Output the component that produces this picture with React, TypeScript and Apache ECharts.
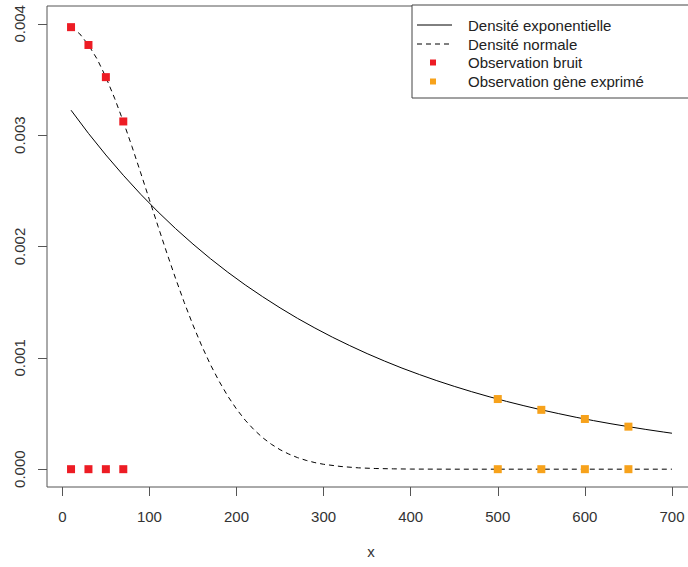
import React, { useEffect, useRef } from "react";
import * as echarts from "echarts";

// Exponential density curve
const expX = [10, 30, 50, 70, 90, 110, 130, 150, 170, 190, 210, 230, 250, 270, 290, 310, 330, 350, 370, 390, 410, 430, 450, 470, 490, 510, 530, 550, 570, 590, 610, 630, 650, 670, 690, 700];
const expY = [0.003224, 0.003016, 0.002822, 0.00264, 0.002469, 0.00231, 0.002161, 0.002022, 0.001891, 0.001769, 0.001655, 0.001549, 0.001449, 0.001355, 0.001268, 0.001186, 0.00111, 0.001038, 0.000971, 0.000908, 0.00085, 0.000795, 0.000744, 0.000696, 0.000651, 0.000609, 0.00057, 0.000533, 0.000499, 0.000466, 0.000436, 0.000408, 0.000382, 0.000357, 0.000334, 0.000323];

// Normal density curve
const normX = [10, 20, 30, 40, 50, 60, 70, 80, 90, 100, 110, 120, 130, 140, 150, 160, 170, 180, 190, 200, 210, 220, 230, 240, 250, 260, 270, 280, 290, 300, 320, 340, 360, 380, 400, 450, 500, 550, 600, 650, 700];
const normY = [0.00397, 0.00391, 0.00381, 0.003683, 0.003521, 0.003332, 0.003123, 0.002897, 0.002661, 0.00242, 0.002179, 0.001942, 0.001714, 0.001497, 0.001295, 0.001109, 0.00094, 0.00079, 0.000656, 0.00054, 0.00044, 0.000355, 0.000283, 0.000224, 0.000175, 0.000136, 0.000104, 0.000079, 0.000059, 0.000044, 0.000024, 0.000012, 0.000006, 0.000003, 0.000001, 0, 0, 0, 0, 0, 0];

// Observations
const noiseX = [10, 30, 50, 70];
const noiseY = [0.00397, 0.00381, 0.003521, 0.003123];
const geneX = [500, 550, 600, 650];
const geneY = [0.00063, 0.000533, 0.000451, 0.000382];

const xTicks = [0, 100, 200, 300, 400, 500, 600, 700];
const yTicks = [0, 0.001, 0.002, 0.003, 0.004];

const legendLabels = ["Densité exponentielle", "Densité normale", "Observation bruit", "Observation gène exprimé"];

const RED = "#ED1C24";
const ORANGE = "#F7A21B";
const FONT = "'Liberation Sans', Arial, sans-serif";

export default function App() {
  const ref = useRef<HTMLDivElement>(null);
  useEffect(() => {
    if (!ref.current) return;
    const chart = echarts.init(ref.current, undefined, { renderer: "svg" });
    const zip = (xs: number[], ys: number[]) => xs.map((x, i) => [x, ys[i]]);
    const noisePts = [...zip(noiseX, noiseY), ...noiseX.map((x) => [x, 0])];
    const genePts = [...zip(geneX, geneY), ...geneX.map((x) => [x, 0])];
    const legY = [25, 44, 62.5, 81.5];
    chart.setOption({
      animation: false,
      backgroundColor: "#fff",
      textStyle: { fontFamily: FONT },
      grid: {
        left: 47,
        top: 6,
        right: 4,
        bottom: 80,
        show: true,
        borderColor: "#555",
        borderWidth: 1,
        backgroundColor: "transparent",
      },
      xAxis: {
        type: "value",
        min: -17.6,
        max: 727.6,
        splitLine: { show: false },
        axisLine: { show: false, onZero: false },
        axisTick: { show: true, length: 9, lineStyle: { color: "#555" }, customValues: xTicks },
        axisLabel: { show: true, margin: 22, fontSize: 15, color: "#333", fontFamily: FONT, customValues: xTicks },
      },
      yAxis: {
        type: "value",
        min: -0.00016,
        max: 0.00416,
        splitLine: { show: false },
        axisLine: { show: false, onZero: false },
        axisTick: { show: true, length: 9, lineStyle: { color: "#555" }, customValues: yTicks },
        axisLabel: {
          show: true,
          rotate: 90,
          margin: 20,
          fontSize: 15,
          color: "#333",
          fontFamily: FONT,
          customValues: yTicks,
          formatter: (v: number) => v.toFixed(3),
        },
      },
      series: [
        {
          type: "line",
          data: zip(expX, expY),
          showSymbol: false,
          symbol: "none",
          lineStyle: { color: "#000", width: 1 },
          z: 2,
        },
        {
          type: "line",
          data: zip(normX, normY),
          showSymbol: false,
          symbol: "none",
          lineStyle: { color: "#000", width: 1, type: [5, 4] },
          z: 2,
        },
        {
          type: "scatter",
          data: noisePts,
          symbol: "rect",
          symbolSize: 8,
          itemStyle: { color: RED, opacity: 1 },
          z: 3,
        },
        {
          type: "scatter",
          data: genePts,
          symbol: "rect",
          symbolSize: 8,
          itemStyle: { color: ORANGE, opacity: 1 },
          z: 3,
        },
      ],
      graphic: [
        {
          type: "rect",
          shape: { x: 412, y: 5, width: 300, height: 93 },
          style: { fill: "#fff", stroke: "#444", lineWidth: 1 },
          z: 10,
        },
        {
          type: "line",
          shape: { x1: 417, y1: legY[0], x2: 452, y2: legY[0] },
          style: { stroke: "#000", lineWidth: 1 },
          z: 11,
        },
        {
          type: "line",
          shape: { x1: 417, y1: legY[1], x2: 452, y2: legY[1] },
          style: { stroke: "#000", lineWidth: 1, lineDash: [5, 4] },
          z: 11,
        },
        {
          type: "rect",
          shape: { x: 430, y: legY[2] - 3, width: 6, height: 6 },
          style: { fill: RED },
          z: 11,
        },
        {
          type: "rect",
          shape: { x: 430, y: legY[3] - 3, width: 6, height: 6 },
          style: { fill: ORANGE },
          z: 11,
        },
        ...legendLabels.map((t, i) => ({
          type: "text",
          x: 468,
          y: legY[i],
          style: { text: t, fill: "#222", font: `15px ${FONT}`, textVerticalAlign: "middle", textAlign: "left" },
          z: 11,
        })),
        {
          type: "text",
          x: 371,
          y: 551,
          style: { text: "x", fill: "#333", font: `15px ${FONT}`, textAlign: "center", textVerticalAlign: "middle" },
          z: 11,
        },
      ],
    });
    return () => chart.dispose();
  }, []);
  return <div ref={ref} style={{ position: "fixed", left: 0, top: 0, width: 700, height: 567 }} />;
}
